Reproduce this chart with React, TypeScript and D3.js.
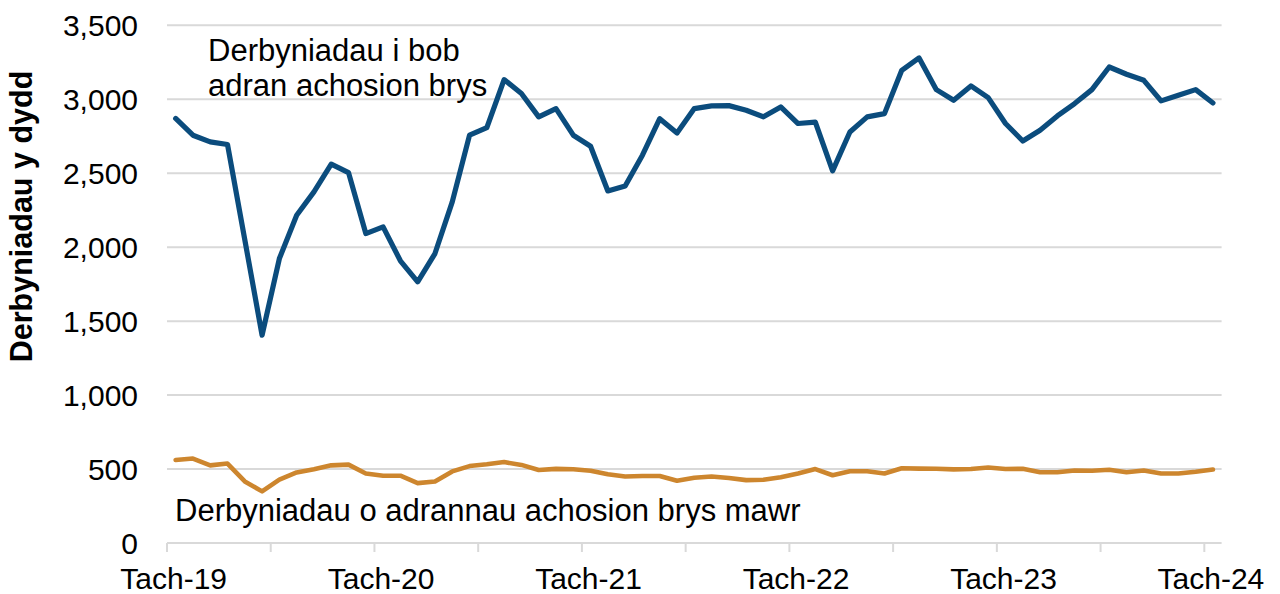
import React from "react";
import * as d3 from "d3";

const categories: string[] = [
  "Tach-19","Rhag-19","Ion-20","Chwef-20","Maw-20","Ebr-20","Mai-20","Meh-20","Gorff-20","Awst-20","Medi-20","Hyd-20",
  "Tach-20","Rhag-20","Ion-21","Chwef-21","Maw-21","Ebr-21","Mai-21","Meh-21","Gorff-21","Awst-21","Medi-21","Hyd-21",
  "Tach-21","Rhag-21","Ion-22","Chwef-22","Maw-22","Ebr-22","Mai-22","Meh-22","Gorff-22","Awst-22","Medi-22","Hyd-22",
  "Tach-22","Rhag-22","Ion-23","Chwef-23","Maw-23","Ebr-23","Mai-23","Meh-23","Gorff-23","Awst-23","Medi-23","Hyd-23",
  "Tach-23","Rhag-23","Ion-24","Chwef-24","Maw-24","Ebr-24","Mai-24","Meh-24","Gorff-24","Awst-24","Medi-24","Hyd-24",
  "Tach-24",
];

const allEDAdmissions: number[] = [
  2870, 2757, 2712, 2694, 2050, 1405, 1923, 2216, 2374, 2561,
  2504, 2092, 2137, 1908, 1766, 1957, 2306, 2757, 2809, 3133,
  3039, 2881, 2937, 2757, 2682, 2380, 2414, 2622, 2869, 2772,
  2937, 2955, 2957, 2926, 2881, 2948, 2836, 2845, 2516, 2779,
  2881, 2903, 3196, 3279, 3065, 2993, 3090, 3011, 2836, 2718,
  2791, 2887, 2971, 3065, 3218, 3169, 3128, 2989, 3027, 3065,
  2975,
];

const majorEDAdmissions: number[] = [
  561, 571, 525, 537, 416, 349, 429, 477, 499, 525,
  530, 470, 455, 455, 405, 416, 484, 520, 532, 547,
  528, 494, 501, 499, 489, 465, 450, 453, 453, 421,
  441, 450, 440, 425, 428, 445, 470, 500, 458, 485,
  485, 470, 505, 503, 502, 498, 500, 510, 500, 502,
  478, 478, 490, 488, 495, 478, 490, 470, 470, 482,
  497,
];

const yTicks: number[] = [0, 500, 1000, 1500, 2000, 2500, 3000, 3500];
const xLabels: string[] = ["Tach-19", "Tach-20", "Tach-21", "Tach-22", "Tach-23", "Tach-24"];
const yTitle = "Derbyniadau y dydd";
const blueLabel = ["Derbyniadau i bob", "adran achosion brys"];
const orangeLabel = "Derbyniadau o adrannau achosion brys mawr";

export default function App() {
  const W = 1280, H = 594;
  const left = 167, right = 1221.6, top = 25.3, bottom = 543;
  const x = d3.scalePoint<string>().domain(categories).range([left, right]).padding(0.5);
  const step = x.step();
  const y = d3.scaleLinear().domain([0, 3500]).range([bottom, top]);
  const line = d3.line<number>().x((_, i) => x(categories[i]) as number).y((d) => y(d));
  const font = "Liberation Sans, Arial, Helvetica, sans-serif";
  const tickIdx = d3.range(0, categories.length, 6);
  const grid = "#D9D9D9";

  return (
    <svg width={W} height={H} style={{ position: "absolute", left: 0, top: 0, background: "#fff" }} fontFamily={font}>
      {yTicks.filter((t) => t > 0).map((t) => (
        <line key={t} x1={left} x2={right} y1={y(t)} y2={y(t)} stroke={grid} strokeWidth={2} />
      ))}
      <line x1={left} x2={right} y1={y(0)} y2={y(0)} stroke={grid} strokeWidth={2} />
      {tickIdx.map((i) => {
        const tx = left + i * step;
        return <line key={i} x1={tx} x2={tx} y1={bottom} y2={bottom + 9} stroke={grid} strokeWidth={2} />;
      })}
      {yTicks.map((t) => (
        <text key={t} x={138} y={y(t)} dy="0.36em" textAnchor="end" fontSize={30} fill="#000">
          {d3.format(",")(t)}
        </text>
      ))}
      {xLabels.map((l) => (
        <text key={l} x={(x(l) as number) - 2} y={589} textAnchor="middle" fontSize={30} fill="#000">
          {l}
        </text>
      ))}
      <text transform={`translate(32,216.5) rotate(-90)`} textAnchor="middle" fontSize={30.5} fontWeight="bold" fill="#000">
        {yTitle}
      </text>
      <path d={line(majorEDAdmissions) || ""} fill="none" stroke="#CD862E" strokeWidth={4.6} strokeLinejoin="round" strokeLinecap="round" />
      <path d={line(allEDAdmissions) || ""} fill="none" stroke="#0B4C7D" strokeWidth={5.2} strokeLinejoin="round" strokeLinecap="round" />
      <text x={208} y={61} fontSize={31} fill="#000">{blueLabel[0]}</text>
      <text x={208} y={95.5} fontSize={31} fill="#000">{blueLabel[1]}</text>
      <text x={175} y={521} fontSize={31} fill="#000">{orangeLabel}</text>
    </svg>
  );
}
